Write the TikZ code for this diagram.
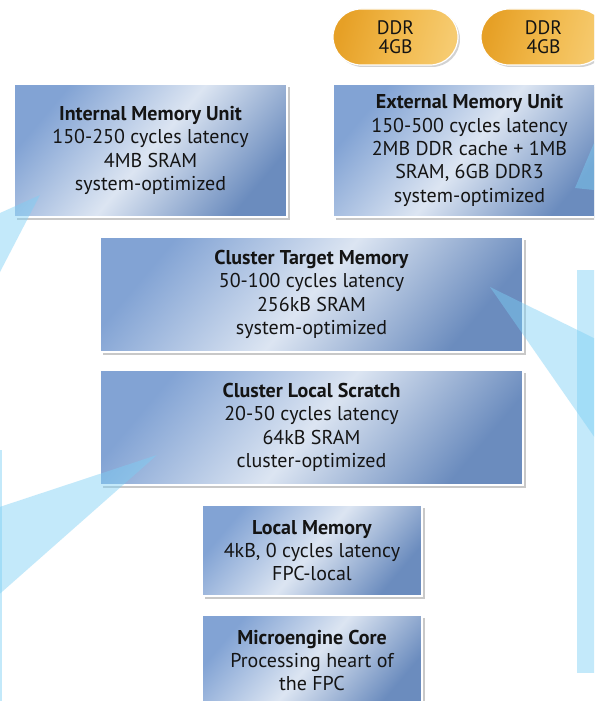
\documentclass[tikz,border=0pt]{standalone}
\usepackage{fontspec}
\setmainfont{PT Sans}
\usetikzlibrary{shadows,shapes.misc}
\definecolor{txt}{HTML}{141414}
\definecolor{bxA}{HTML}{82A3D4}
\definecolor{bxM}{HTML}{DCE5F2}
\definecolor{bxB}{HTML}{6B8CBE}
\definecolor{plA}{HTML}{E6A026}
\definecolor{plM}{HTML}{F1B84A}
\definecolor{plB}{HTML}{F6CB70}
\definecolor{callout}{HTML}{7CCFF5}
\tikzset{
  membox/.style={rectangle, draw=white, line width=1.2pt, inner sep=0pt,
    left color=bxA, right color=bxB, middle color=bxM, shading angle=50,
    drop shadow={shadow xshift=2.5pt, shadow yshift=-2.5pt, opacity=0.3, fill=black!70},
    align=center, text=txt, font=\fontsize{20}{23.3}\selectfont},
  ddrpill/.style={rounded rectangle, draw=white, line width=1.2pt, inner sep=0pt,
    left color=plA, right color=plB, middle color=plM, shading angle=75,
    drop shadow={shadow xshift=2pt, shadow yshift=-2pt, opacity=0.25, fill=black!70},
    align=center, text=txt, font=\fontsize{19.5}{19.5}\selectfont},
  panel/.style={fill=callout, fill opacity=0.45, draw=none, inner sep=0pt},
  wedge/.style={fill=callout, fill opacity=0.45, draw=none}
}
\begin{document}
\begin{tikzpicture}[x=1pt,y=-1pt]
\useasboundingbox (0,0) rectangle (594,701);
\clip (0,0) rectangle (594,701);
\fill[white] (0,0) rectangle (594,701);

% DDR pills
\node[ddrpill, minimum width=125pt, minimum height=56pt] (ddr1) at (395.5,37) {DDR\\4GB};
\node[ddrpill, minimum width=125pt, minimum height=56pt] (ddr2) at (543.5,37) {DDR\\4GB};

% memory boxes
\node[membox, minimum width=273pt, minimum height=133pt] (imu) at (150.5,150.5)
  {\textbf{Internal Memory Unit}\\150-250 cycles latency\\4MB SRAM\\system-optimized};
\node[membox, minimum width=273pt, minimum height=133pt] (emu) at (469.5,150.5)
  {\textbf{External Memory Unit}\\150-500 cycles latency\\2MB DDR cache + 1MB\\SRAM, 6GB DDR3\\system-optimized};
\node[membox, minimum width=423pt, minimum height=115pt] (ctm) at (311.5,294.5)
  {\textbf{Cluster Target Memory}\\50-100 cycles latency\\256kB SRAM\\system-optimized};
\node[membox, minimum width=423pt, minimum height=115pt] (cls) at (311.5,427.5)
  {\textbf{Cluster Local Scratch}\\20-50 cycles latency\\64kB SRAM\\cluster-optimized};
\node[membox, minimum width=220pt, minimum height=91pt] (lm) at (312,550.5)
  {\textbf{Local Memory}\\4kB, 0 cycles latency\\FPC-local};
\node[membox, minimum width=220pt, minimum height=91pt] (mc) at (312,660.5)
  {\textbf{Microengine Core}\\Processing heart of\\the FPC};

% callout panels
\path[panel] (577,270) rectangle (620,673) node[pos=0.5, inner sep=0pt] (rpanel) {};
\path[panel] (-40,450) rectangle (1.5,705) node[pos=0.5, inner sep=0pt] (lpanel) {};

% callout tips
\coordinate (tipimu) at (40,195);
\coordinate (tipemu) at (575,188);
\coordinate (tipctm) at (490,287);
\coordinate (tipcls) at (157,455);

% wedges
\fill[wedge] (tipimu) -- (0,213) -- (0,272) -- cycle;
\fill[wedge] (tipemu) -- (594,143) -- (594,190) -- cycle;
\fill[wedge] (tipctm) -- (rpanel.west |- 0,340) -- (rpanel.west |- 0,442) -- cycle;
\fill[wedge] (tipcls) -- (lpanel.east |- 0,513) -- (lpanel.east |- 0,610) -- cycle;
\end{tikzpicture}
\end{document}
